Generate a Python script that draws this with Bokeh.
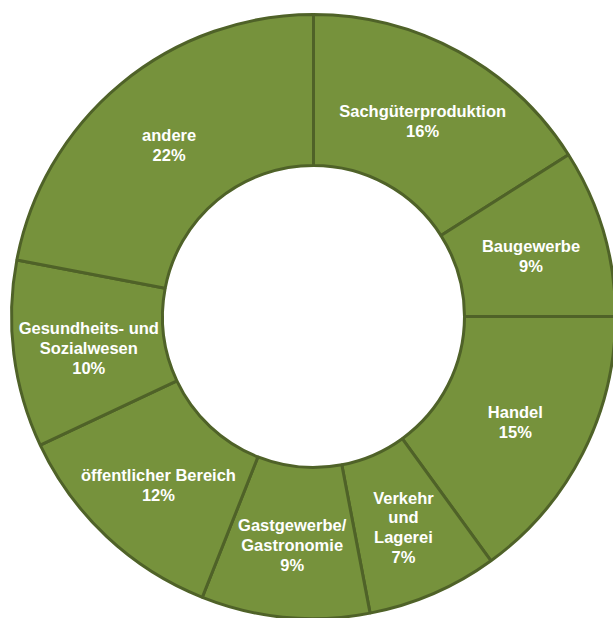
import math
from bokeh.plotting import figure
from bokeh.models import ColumnDataSource, Range1d
from bokeh.core.properties import value
from bokeh.embed import file_html
from bokeh.resources import INLINE

categories = ["Sachgüterproduktion", "Baugewerbe", "Handel", "Verkehr\nund\nLagerei",
              "Gastgewerbe/\nGastronomie", "öffentlicher Bereich",
              "Gesundheits- und\nSozialwesen", "andere"]
shares = [16, 9, 15, 7, 9, 12, 10, 22]

total = sum(shares)
starts, ends, lx, ly, labels = [], [], [], [], []
R_IN, R_OUT = 151, 302
R_MID = (R_IN + R_OUT) / 2
cum = 0
for c, s in zip(categories, shares):
    a0 = math.pi / 2 - 2 * math.pi * cum / total
    a1 = math.pi / 2 - 2 * math.pi * (cum + s) / total
    starts.append(a0)
    ends.append(a1)
    am = (a0 + a1) / 2
    lx.append(R_MID * math.cos(am))
    ly.append(R_MID * math.sin(am))
    labels.append(f"{c}\n{s}%")
    cum += s

src = ColumnDataSource(dict(start=starts, end=ends, x=[0] * len(shares), y=[0] * len(shares)))
lsrc = ColumnDataSource(dict(x=lx, y=ly, text=labels))

p = figure(width=613, height=618, output_backend="svg", toolbar_location=None,
           x_range=Range1d(-313, 300), y_range=Range1d(-302, 316),
           min_border=0, background_fill_color="white", border_fill_color="white")
p.axis.visible = False
p.grid.visible = False
p.outline_line_color = None

p.annular_wedge(x="x", y="y", inner_radius=R_IN, outer_radius=R_OUT,
                start_angle="start", end_angle="end", direction="clock",
                fill_color="#76923C", line_color="#4F6228", line_width=3, source=src)

p.text(x="x", y="y", text="text", source=lsrc, text_color="white",
       text_font=value("Liberation Sans"), text_font_style="bold",
       text_font_size="16.5px", text_align="center", text_baseline="middle",
       text_line_height=1.1, y_offset=3)

open("out.html", "w").write(file_html(p, INLINE))
